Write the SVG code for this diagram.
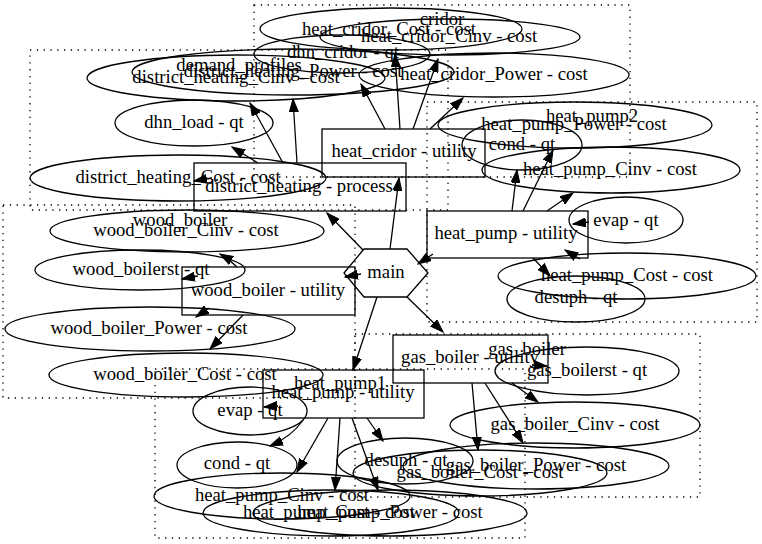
<svg xmlns="http://www.w3.org/2000/svg" width="762" height="544" viewBox="0 0 762 544">
<style>
.cl{fill:none;stroke:#000;stroke-width:1.3;stroke-dasharray:1.3,5.5}
.n{fill:none;stroke:#000;stroke-width:1.3}
.t{font-family:"Liberation Serif","Times New Roman",serif;font-size:18.67px;fill:#000;text-anchor:middle}
.e{fill:none;stroke:#000;stroke-width:1.3;marker-end:url(#ah)}
</style>
<defs>
<marker id="ah" markerUnits="userSpaceOnUse" markerWidth="14" markerHeight="10" refX="13" refY="5" orient="auto" viewBox="0 0 14 10">
<path d="M0,0.5 L13,5 L0,9.5 z" fill="#000" stroke="#000" stroke-width="1"/>
</marker>
</defs>
<rect x="0" y="0" width="762" height="544" fill="#fff"/>
<g id="clusters">
<g id="cluster_cridor"><rect class="cl" x="254" y="5" width="376" height="172"/><text class="t" x="442" y="25">cridor</text></g>
<g id="cluster_demand_profiles"><rect class="cl" x="30" y="50" width="418" height="160"/><text class="t" x="239" y="71">demand_profiles</text></g>
<g id="cluster_wood_boiler"><rect class="cl" x="3" y="205" width="352" height="193"/><text class="t" x="180" y="226">wood_boiler</text></g>
<g id="cluster_heat_pump2"><rect class="cl" x="427" y="102" width="330" height="220"/><text class="t" x="592" y="122">heat_pump2</text></g>
<g id="cluster_gas_boiler"><rect class="cl" x="355" y="334" width="345" height="163"/><text class="t" x="527" y="355">gas_boiler</text></g>
<g id="cluster_heat_pump1"><rect class="cl" x="155" y="369" width="370" height="169"/><text class="t" x="340" y="389">heat_pump1</text></g>
</g>
<g id="main"><polygon class="n" points="344,273 364,249 407,249 428,273 407,297 364,297"/><text class="t" x="386" y="278">main</text></g>
<g id="heat_cridor_Cost"><ellipse class="n" cx="391" cy="29" rx="131" ry="21"/><text class="t" x="389" y="35">heat_cridor_Cost - cost</text></g>
<g id="heat_cridor_Cinv"><ellipse class="n" cx="450" cy="37" rx="130" ry="18"/><text class="t" x="449" y="42">heat_cridor_Cinv - cost</text></g>
<g id="dhn_cridor"><ellipse class="n" cx="342" cy="54" rx="88" ry="19"/><text class="t" x="343" y="58">dhn_cridor - qt</text></g>
<g id="heat_cridor_Power"><ellipse class="n" cx="494" cy="75" rx="135" ry="22"/><text class="t" x="494" y="80">heat_cridor_Power - cost</text></g>
<g id="heat_cridor_utility"><rect class="n" x="322" y="129" width="163" height="48"/><text class="t" x="404" y="157">heat_cridor - utility</text></g>
<g id="district_heating_Cinv"><ellipse class="n" cx="236" cy="78" rx="149" ry="23"/><text class="t" x="236" y="83">district_heating_Cinv - cost</text></g>
<g id="district_heating_Power"><ellipse class="n" cx="293" cy="72" rx="161" ry="23"/><text class="t" x="293" y="77">district_heating_Power - cost</text></g>
<g id="dhn_load"><ellipse class="n" cx="194" cy="123" rx="79" ry="23"/><text class="t" x="194" y="128">dhn_load - qt</text></g>
<g id="district_heating_Cost"><ellipse class="n" cx="178" cy="178" rx="148" ry="23"/><text class="t" x="178" y="183">district_heating_Cost - cost</text></g>
<g id="district_heating_process"><rect class="n" x="194" y="163" width="212" height="48"/><text class="t" x="299" y="192">district_heating - process</text></g>
<g id="wood_boiler_Cinv"><ellipse class="n" cx="187" cy="231" rx="137" ry="21"/><text class="t" x="186" y="236">wood_boiler_Cinv - cost</text></g>
<g id="wood_boilerst"><ellipse class="n" cx="140" cy="270" rx="105" ry="20"/><text class="t" x="141" y="275">wood_boilerst - qt</text></g>
<g id="wood_boiler_utility"><rect class="n" x="182" y="267" width="173" height="48"/><text class="t" x="268" y="296">wood_boiler - utility</text></g>
<g id="wood_boiler_Power"><ellipse class="n" cx="150" cy="329" rx="145" ry="22"/><text class="t" x="149" y="334">wood_boiler_Power - cost</text></g>
<g id="wood_boiler_Cost"><ellipse class="n" cx="186" cy="375" rx="137" ry="22"/><text class="t" x="185" y="380">wood_boiler_Cost - cost</text></g>
<g id="hp2_Power"><ellipse class="n" cx="575" cy="125" rx="137" ry="23"/><text class="t" x="574" y="130">heat_pump_Power - cost</text></g>
<g id="hp2_cond"><ellipse class="n" cx="522" cy="145" rx="60" ry="25"/><text class="t" x="522" y="150">cond - qt</text></g>
<g id="hp2_Cinv"><ellipse class="n" cx="611" cy="170" rx="129" ry="23"/><text class="t" x="610" y="175">heat_pump_Cinv - cost</text></g>
<g id="hp2_utility"><rect class="n" x="427" y="211" width="161" height="47"/><text class="t" x="506" y="239">heat_pump - utility</text></g>
<g id="hp2_evap"><ellipse class="n" cx="626" cy="220" rx="57" ry="23"/><text class="t" x="626" y="226">evap - qt</text></g>
<g id="hp2_Cost"><ellipse class="n" cx="627" cy="276" rx="129" ry="23"/><text class="t" x="627" y="281">heat_pump_Cost - cost</text></g>
<g id="hp2_desuph"><ellipse class="n" cx="576" cy="299" rx="69" ry="23"/><text class="t" x="576" y="303">desuph - qt</text></g>
<g id="gas_boiler_utility"><rect class="n" x="393" y="335" width="155" height="48"/><text class="t" x="470" y="363">gas_boiler - utility</text></g>
<g id="gas_boilerst"><ellipse class="n" cx="587" cy="371" rx="92" ry="24"/><text class="t" x="587" y="376">gas_boilerst - qt</text></g>
<g id="gas_boiler_Cinv"><ellipse class="n" cx="575" cy="425" rx="125" ry="23"/><text class="t" x="575" y="430">gas_boiler_Cinv - cost</text></g>
<g id="gas_boiler_Power"><ellipse class="n" cx="536" cy="466" rx="133" ry="23"/><text class="t" x="536" y="471">gas_boiler_Power - cost</text></g>
<g id="gas_boiler_Cost"><ellipse class="n" cx="480" cy="473" rx="127" ry="23"/><text class="t" x="480" y="478">gas_boiler_Cost - cost</text></g>
<g id="hp1_utility"><rect class="n" x="263" y="370" width="161" height="48"/><text class="t" x="343" y="398">heat_pump - utility</text></g>
<g id="hp1_evap"><ellipse class="n" cx="250" cy="411" rx="57" ry="24"/><text class="t" x="250" y="416">evap - qt</text></g>
<g id="hp1_cond"><ellipse class="n" cx="237" cy="465" rx="60" ry="23"/><text class="t" x="237" y="469">cond - qt</text></g>
<g id="hp1_desuph"><ellipse class="n" cx="405" cy="461" rx="68" ry="23"/><text class="t" x="406" y="466">desuph - qt</text></g>
<g id="hp1_Cinv"><ellipse class="n" cx="282" cy="496" rx="128" ry="23"/><text class="t" x="282" y="501">heat_pump_Cinv - cost</text></g>
<g id="hp1_Cost"><ellipse class="n" cx="331" cy="513" rx="128" ry="23"/><text class="t" x="329" y="518">heat_pump_Cost - cost</text></g>
<g id="hp1_Power"><ellipse class="n" cx="390" cy="513" rx="137" ry="23"/><text class="t" x="390" y="518">heat_pump_Power - cost</text></g>
<g id="edges">
<path class="e" d="M363,250 L327,213"/>
<path class="e" d="M390,249 L399,178"/>
<path class="e" d="M433,254 L418,264"/>
<path class="e" d="M361,274 L345,277"/>
<path class="e" d="M407,297 L443,332"/>
<path class="e" d="M377,297 L353,370"/>
<path class="e" d="M258,163 L232,147"/>
<path class="e" d="M283,163 L250,103"/>
<path class="e" d="M297,163 L293,99"/>
<path class="e" d="M212,178 L194,181"/>
<path class="e" d="M385,129 L361,84"/>
<path class="e" d="M400,129 L395,54"/>
<path class="e" d="M413,129 L438,59"/>
<path class="e" d="M430,129 L463,98"/>
<path class="e" d="M512,211 L517,170"/>
<path class="e" d="M523,211 L553,150"/>
<path class="e" d="M547,211 L573,193"/>
<path class="e" d="M589,222 L573,224"/>
<path class="e" d="M580,259 L565,250"/>
<path class="e" d="M533,258 L550,276"/>
<path class="e" d="M237,267 C232,262 227,258 220,254"/>
<path class="e" d="M198,276 L182,279"/>
<path class="e" d="M209,308 L196,317"/>
<path class="e" d="M243,315 L210,349"/>
<path class="e" d="M532,365 L547,366"/>
<path class="e" d="M512,383 L538,402"/>
<path class="e" d="M485,383 L523,443"/>
<path class="e" d="M472,383 L478,450"/>
<path class="e" d="M278,406 L264,407"/>
<path class="e" d="M303,420 C295,432 284,440 270,446"/>
<path class="e" d="M328,418 L297,472"/>
<path class="e" d="M340,418 L335,490"/>
<path class="e" d="M352,418 L378,490"/>
<path class="e" d="M367,418 L383,441"/>
</g>
</svg>
